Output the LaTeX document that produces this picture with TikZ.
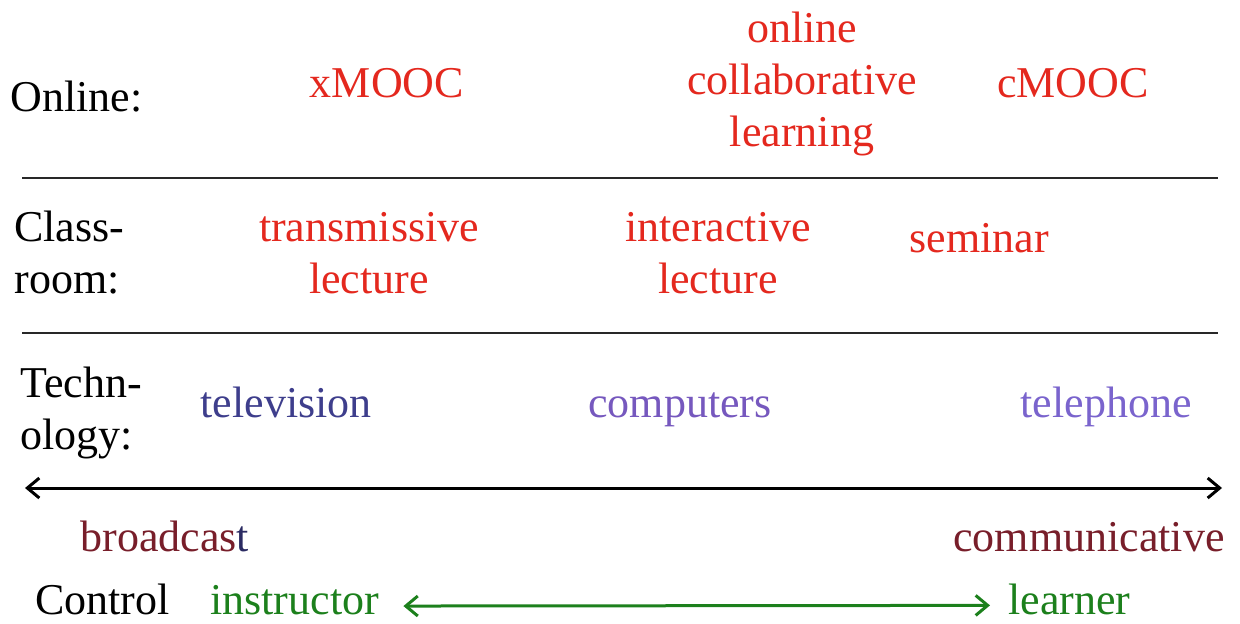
\documentclass[tikz,border=0pt]{standalone}
\usepackage{fontspec}
\setmainfont{Liberation Serif}
\usetikzlibrary{arrows.meta,positioning}
\definecolor{modered}{RGB}{228,40,30}
\definecolor{tvblue}{RGB}{62,62,140}
\definecolor{pcpurple}{RGB}{118,88,190}
\definecolor{telpurple}{RGB}{122,100,205}
\definecolor{scalered}{RGB}{120,30,42}
\definecolor{ctrlgreen}{RGB}{28,128,28}
\definecolor{rulegray}{RGB}{40,40,40}

\begin{document}
\begin{tikzpicture}[x=0.5pt,y=-0.5pt,font=\fontsize{22}{26}\selectfont,
 >={Straight Barb[length=6pt,width=10pt]},
 rowlbl/.style={anchor=base west,inner sep=0pt,align=left},
 mode/.style={anchor=base,inner sep=0pt,align=center,modered},
 tech/.style={anchor=base,inner sep=0pt},
 rulel/.style={rulegray,line width=1pt}]
\useasboundingbox (0,0) rectangle (1240,623);
% row labels (base = last line)
\node[rowlbl] (online) at (10,111) {Online:};
\node[rowlbl] (class) at (14,293) {Class-\\room:};
\node[rowlbl] (techlbl) at (20,449) {Techn-\\ology:};
% online row
\node[mode] (xmooc) at (387,97) {xMOOC};
\node[mode] (ocl) at (802,146) {online\\collaborative\\learning};
\node[mode] (cmooc) at (1073,97) {cMOOC};
% classroom row
\node[mode] (trans) at (369,293) {transmissive\\lecture};
\node[mode] (inter) at (718,293) {interactive\\lecture};
\node[mode] (sem) at (979,252) {seminar};
% technology row
\node[tech,tvblue] (tv) at (286,417) {television};
\node[tech,pcpurple] (pc) at (680,417) {computers};
\node[tech,telpurple] (tel) at (1106,417) {telephone};
% rules
\coordinate (r1a) at (22,178); \coordinate (r1b) at (1218,178);
\coordinate (r2a) at (22,333); \coordinate (r2b) at (1218,333);
\draw[rulel] (r1a)--(r1b);
\draw[rulel] (r2a)--(r2b);
% broadcast -- communicative scale
\coordinate (sl) at (25,488); \coordinate (sr) at (1222,488);
\draw[<->,line width=1.5pt] (sl)--(sr);
\node[anchor=base west,inner sep=0pt,scalered] (bc) at (80,551) {broadcas{\color{tvblue!70!black}t}};
\node[anchor=base east,inner sep=0pt,scalered] (comm) at (1225,551) {communicative};
% control
\node[anchor=base west,inner sep=0pt] (ctrl) at (35,614) {Control};
\node[anchor=base west,inner sep=0pt,ctrlgreen] (instr) at (210,614) {instructor};
\node[anchor=base west,inner sep=0pt,ctrlgreen] (lrn) at (1008,614) {learner};
\draw[<->,ctrlgreen,line width=1.5pt,shorten <=12pt,shorten >=9pt] ([yshift=-3.2pt]instr.east)--([yshift=-3.2pt]lrn.west);
\end{tikzpicture}
\end{document}
